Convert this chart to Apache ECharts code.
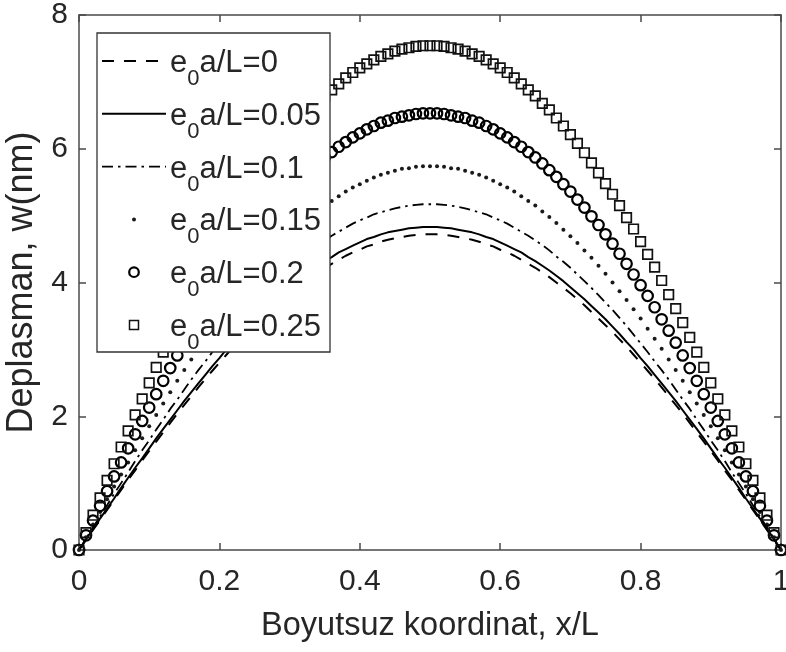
<!DOCTYPE html>
<html><head><meta charset="utf-8">
<script src="https://cdn.jsdelivr.net/npm/echarts@6/dist/echarts.min.js"></script>
<style>html,body{margin:0;padding:0;background:#fff;overflow:hidden}#c{position:absolute;left:0;top:0;width:786px;height:652px}</style>
</head><body><div id="c"></div>
<script>
const FONT = '"Liberation Sans", Arial, Helvetica, sans-serif';

// x/L sample positions
const xs = [0,0.01,0.02,0.03,0.04,0.05,0.06,0.07,0.08,0.09,0.10,0.11,0.12,0.13,0.14,0.15,0.16,0.17,0.18,0.19,0.20,
0.21,0.22,0.23,0.24,0.25,0.26,0.27,0.28,0.29,0.30,0.31,0.32,0.33,0.34,0.35,0.36,0.37,0.38,0.39,0.40,
0.41,0.42,0.43,0.44,0.45,0.46,0.47,0.48,0.49,0.50,0.51,0.52,0.53,0.54,0.55,0.56,0.57,0.58,0.59,0.60,
0.61,0.62,0.63,0.64,0.65,0.66,0.67,0.68,0.69,0.70,0.71,0.72,0.73,0.74,0.75,0.76,0.77,0.78,0.79,0.80,
0.81,0.82,0.83,0.84,0.85,0.86,0.87,0.88,0.89,0.90,0.91,0.92,0.93,0.94,0.95,0.96,0.97,0.98,0.99,1.00];

// w(nm) for each e0a/L
const w000 = [0,0.15,0.30,0.45,0.60,0.75,0.90,1.05,1.19,1.34,1.48,1.62,1.76,1.90,2.04,2.17,2.30,2.43,2.56,2.68,2.80,2.92,3.04,3.15,3.26,3.36,3.46,3.56,3.66,3.75,3.84,3.92,4.00,4.08,4.15,4.22,4.28,4.34,4.40,4.45,4.49,4.54,4.57,4.61,4.64,4.66,4.68,4.70,4.71,4.72,4.72,
4.72,4.71,4.70,4.68,4.66,4.64,4.61,4.57,4.54,4.49,4.45,4.40,4.34,4.28,4.22,4.15,4.08,4.00,3.92,3.84,3.75,3.66,3.56,3.46,3.36,3.26,3.15,3.04,2.92,2.80,2.68,2.56,2.43,2.30,2.17,2.04,1.90,1.76,1.62,1.48,1.34,1.19,1.05,0.90,0.75,0.60,0.45,0.30,0.15,0];
const w005 = [0,0.16,0.31,0.47,0.62,0.77,0.93,1.08,1.23,1.37,1.52,1.67,1.81,1.95,2.09,2.23,2.36,2.49,2.62,2.75,2.87,3.00,3.11,3.23,3.34,3.45,3.55,3.65,3.75,3.84,3.93,4.02,4.10,4.18,4.25,4.32,4.38,4.45,4.50,4.55,4.60,4.65,4.68,4.72,4.75,4.77,4.79,4.81,4.82,4.83,4.83,
4.83,4.82,4.81,4.79,4.77,4.75,4.72,4.68,4.65,4.60,4.55,4.50,4.45,4.38,4.32,4.25,4.18,4.10,4.02,3.93,3.84,3.75,3.65,3.55,3.45,3.34,3.23,3.11,3.00,2.87,2.75,2.62,2.49,2.36,2.23,2.09,1.95,1.81,1.67,1.52,1.37,1.23,1.08,0.93,0.77,0.62,0.47,0.31,0.16,0];
const w010 = [0,0.17,0.34,0.50,0.67,0.84,1.00,1.16,1.33,1.49,1.64,1.80,1.95,2.11,2.25,2.40,2.55,2.69,2.82,2.96,3.09,3.22,3.35,3.47,3.59,3.70,3.81,3.92,4.02,4.12,4.22,4.31,4.39,4.48,4.56,4.63,4.70,4.76,4.82,4.88,4.93,4.97,5.02,5.05,5.08,5.11,5.13,5.15,5.16,5.17,5.17,
5.17,5.16,5.15,5.13,5.11,5.08,5.05,5.02,4.97,4.93,4.88,4.82,4.76,4.70,4.63,4.56,4.48,4.39,4.31,4.22,4.12,4.02,3.92,3.81,3.70,3.59,3.47,3.35,3.22,3.09,2.96,2.82,2.69,2.55,2.40,2.25,2.11,1.95,1.80,1.64,1.49,1.33,1.16,1.00,0.84,0.67,0.50,0.34,0.17,0];
const w015 = [0,0.19,0.38,0.57,0.76,0.95,1.13,1.31,1.49,1.67,1.85,2.02,2.19,2.36,2.53,2.69,2.85,3.01,3.16,3.31,3.46,3.60,3.74,3.87,4.00,4.13,4.25,4.37,4.48,4.59,4.69,4.79,4.89,4.98,5.06,5.15,5.22,5.29,5.36,5.42,5.47,5.52,5.57,5.61,5.64,5.67,5.70,5.71,5.73,5.74,5.74,
5.74,5.73,5.71,5.70,5.67,5.64,5.61,5.57,5.52,5.47,5.42,5.36,5.29,5.22,5.15,5.06,4.98,4.89,4.79,4.69,4.59,4.48,4.37,4.25,4.13,4.00,3.87,3.74,3.60,3.46,3.31,3.16,3.01,2.85,2.69,2.53,2.36,2.19,2.02,1.85,1.67,1.49,1.31,1.13,0.95,0.76,0.57,0.38,0.19,0];
const w020 = [0,0.22,0.44,0.66,0.88,1.10,1.31,1.52,1.73,1.93,2.13,2.33,2.53,2.72,2.91,3.10,3.28,3.45,3.63,3.80,3.96,4.12,4.28,4.43,4.58,4.72,4.86,4.99,5.12,5.24,5.36,5.47,5.58,5.68,5.78,5.87,5.95,6.03,6.10,6.17,6.23,6.29,6.34,6.39,6.42,6.46,6.48,6.50,6.52,6.53,6.53,
6.53,6.52,6.50,6.48,6.46,6.42,6.39,6.34,6.29,6.23,6.17,6.10,6.03,5.95,5.87,5.78,5.68,5.58,5.47,5.36,5.24,5.12,4.99,4.86,4.72,4.58,4.43,4.28,4.12,3.96,3.80,3.63,3.45,3.28,3.10,2.91,2.72,2.53,2.33,2.13,1.93,1.73,1.52,1.31,1.10,0.88,0.66,0.44,0.22,0];
const w025 = [0,0.26,0.52,0.78,1.04,1.29,1.54,1.78,2.02,2.26,2.50,2.73,2.96,3.18,3.40,3.61,3.82,4.03,4.23,4.42,4.61,4.80,4.97,5.15,5.32,5.48,5.64,5.79,5.94,6.08,6.21,6.34,6.46,6.58,6.68,6.79,6.88,6.97,7.06,7.14,7.21,7.27,7.33,7.38,7.42,7.46,7.49,7.51,7.53,7.54,7.54,
7.54,7.53,7.51,7.49,7.46,7.42,7.38,7.33,7.27,7.21,7.14,7.06,6.97,6.88,6.79,6.68,6.58,6.46,6.34,6.21,6.08,5.94,5.79,5.64,5.48,5.32,5.15,4.97,4.80,4.61,4.42,4.23,4.03,3.82,3.61,3.40,3.18,2.96,2.73,2.50,2.26,2.02,1.78,1.54,1.29,1.04,0.78,0.52,0.26,0];

const seriesNames = ['e0a/L=0','e0a/L=0.05','e0a/L=0.1','e0a/L=0.15','e0a/L=0.2','e0a/L=0.25'];
const legendHead = 'e';
const legendSub = '0';
const legendTail = ['a/L=0','a/L=0.05','a/L=0.1','a/L=0.15','a/L=0.2','a/L=0.25'];
const xAxisTitle = 'Boyutsuz koordinat, x/L';
const yAxisTitle = 'Deplasman, w(nm)';

const allY = [w000, w005, w010, w015, w020, w025];
const pairs = ys => xs.map((x, i) => [x, ys[i]]);

const AX = '#4a4a4a', TXT = '#262626';
const dashA = [12, 10];
const dashDot = [11, 5, 2.5, 5];

const styles = [
  {kind:'line', lineStyle:{color:'#000', width:2, type:dashA}},
  {kind:'line', lineStyle:{color:'#000', width:2, type:'solid'}},
  {kind:'line', lineStyle:{color:'#000', width:1.8, type:dashDot}},
  {kind:'mark', symbol:'circle', symbolSize:4, itemStyle:{color:'#1a1a1a'}},
  {kind:'mark', symbol:'circle', symbolSize:10.5, itemStyle:{color:'rgba(0,0,0,0)', borderColor:'#000', borderWidth:2.2}},
  {kind:'mark', symbol:'rect', symbolSize:9.5, itemStyle:{color:'rgba(0,0,0,0)', borderColor:'#111', borderWidth:1.7}}
];

const series = allY.map((ys, k) => {
  const st = styles[k];
  const base = {name: seriesNames[k], type:'line', data: pairs(ys), clip:false, animation:false,
    silent:true, emphasis:{disabled:true}, z: 2 + k};
  if (st.kind === 'line') {
    return Object.assign(base, {showSymbol:false, symbol:'none', lineStyle: st.lineStyle});
  }
  return Object.assign(base, {showSymbol:true, showAllSymbol:true, symbol: st.symbol,
    symbolSize: st.symbolSize, itemStyle: st.itemStyle, lineStyle:{width:0, opacity:0}});
});

// legend drawn as graphic
const LG = {left:97, top:33, width:233, height:319, row0:61, rowStep:52.8, sx1:102, sx2:166, tx:170};
const rich = {
  m:{fontSize:31, lineHeight:36, verticalAlign:'top', fontFamily:FONT, fill:TXT},
  s:{fontSize:22, lineHeight:25, padding:[20,0,0,0], verticalAlign:'top', fontFamily:FONT, fill:TXT}
};
const g = [{type:'rect', z:100, shape:{x:LG.left, y:LG.top, width:LG.width, height:LG.height},
  style:{fill:'#fff', stroke:'#333', lineWidth:1.3}}];
legendTail.forEach((t, i) => {
  const cy = LG.row0 + i * LG.rowStep;
  const cx = (LG.sx1 + LG.sx2) / 2;
  const st = styles[i];
  if (st.kind === 'line') {
    g.push({type:'line', z:101, shape:{x1:LG.sx1, y1:cy, x2:LG.sx2, y2:cy},
      style:{stroke:'#000', lineWidth:st.lineStyle.width, lineDash: Array.isArray(st.lineStyle.type) ? st.lineStyle.type : null}});
  } else if (st.symbol === 'circle' && st.symbolSize < 6) {
    g.push({type:'circle', z:101, shape:{cx:cx, cy:cy, r:2}, style:{fill:'#1a1a1a'}});
  } else if (st.symbol === 'circle') {
    g.push({type:'circle', z:101, shape:{cx:cx, cy:cy, r:4.8}, style:{fill:'none', stroke:'#000', lineWidth:2.2}});
  } else {
    g.push({type:'rect', z:101, shape:{x:cx-4.5, y:cy-4.5, width:9, height:9}, style:{fill:'none', stroke:'#111', lineWidth:1.5}});
  }
  g.push({type:'text', z:101, x:LG.tx, y:cy-13,
    style:{text:'{m|' + legendHead + '}{s|' + legendSub + '}{m|' + t + '}', rich:rich, align:'left', verticalAlign:'top', fill:TXT}});
});

const axisCommon = {
  axisLine:{show:true, onZero:false, lineStyle:{color:AX, width:1.5}},
  axisTick:{show:true, inside:true, length:7, lineStyle:{color:AX, width:1.5}},
  splitLine:{show:false}
};
const option = {
  animation:false,
  backgroundColor:'#fff',
  grid:{left:79, right:5, top:15, bottom:102, containLabel:false, outerBoundsMode:'none'},
  xAxis:[
    Object.assign({type:'value', min:0, max:1, interval:0.2, position:'bottom',
      name:xAxisTitle, nameLocation:'middle', nameGap:60,
      nameTextStyle:{fontSize:32.5, color:TXT, fontFamily:FONT},
      axisLabel:{fontSize:30, color:TXT, margin:17, fontFamily:FONT}}, axisCommon),
    Object.assign({type:'value', min:0, max:1, interval:0.2, position:'top',
      axisLabel:{show:false}}, axisCommon)
  ],
  yAxis:[
    Object.assign({type:'value', min:0, max:8, interval:2, position:'left',
      name:yAxisTitle, nameLocation:'middle', nameGap:24,
      nameTextStyle:{fontSize:36, color:TXT, fontFamily:FONT},
      axisLabel:{fontSize:30, color:TXT, margin:11, fontFamily:FONT}}, axisCommon),
    Object.assign({type:'value', min:0, max:8, interval:2, position:'right',
      axisLabel:{show:false}}, axisCommon)
  ],
  graphic: g,
  series: series
};
const chart = echarts.init(document.getElementById('c'), null, {renderer:'canvas'});
chart.setOption(option);
</script></body></html>
